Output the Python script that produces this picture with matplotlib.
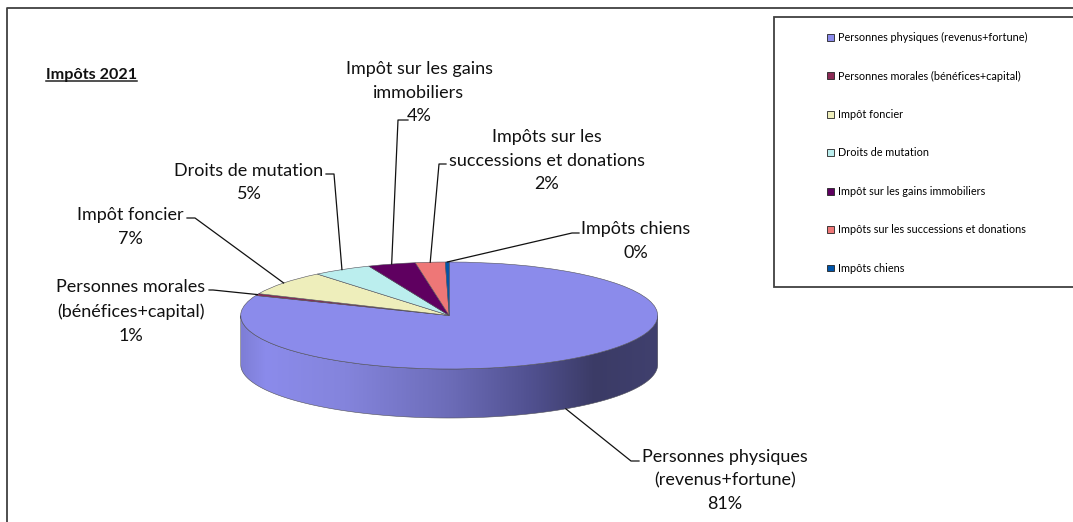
import numpy as np
import matplotlib
matplotlib.use("Agg")
import matplotlib.pyplot as plt
from matplotlib.colors import LinearSegmentedColormap
from matplotlib.patches import Polygon, Rectangle
from matplotlib.transforms import Affine2D

plt.rcParams['font.family'] = ['Lato', 'DejaVu Sans']

# shares, clockwise from 12 o'clock
names = ['Personnes physiques (revenus+fortune)', 'Personnes morales (bénéfices+capital)',
         'Impôt foncier', 'Droits de mutation', 'Impôt sur les gains immobiliers',
         'Impôts sur les successions et donations', 'Impôts chiens']
values = [81.1, 0.6, 7.4, 4.6, 3.7, 2.3, 0.3]
colors = ['#8B8BEB', '#8B2A55', '#EEEEBB', '#BBEEEE', '#5F0060', '#EE7777', '#0055AA']
slice_labels = ['Personnes physiques\n(revenus+fortune)', 'Personnes morales\n(bénéfices+capital)',
                'Impôt foncier', 'Droits de mutation', 'Impôt sur les gains\nimmobiliers',
                'Impôts sur les\nsuccessions et donations', 'Impôts chiens']

W, H = 1073, 522
cx, cy, rx, ry, depth = 449.2, 315.5, 208.5, 53.5, 49

fig = plt.figure(figsize=(W / 100, H / 100), dpi=100)
ax = fig.add_axes([0, 0, 1, 1])
px = Affine2D().scale(1 / W, -1 / H).translate(0, 1) + fig.transFigure  # picture pixels

wedges, _ = ax.pie(values, colors=colors, startangle=90, counterclock=False,
                   wedgeprops={'edgecolor': '#50505a', 'linewidth': 0.4, 'zorder': 3})
ax.set_aspect('auto')

# side of the cake with its gradient
d = depth / ry
th = np.linspace(np.pi, 2 * np.pi, 200)
wall = np.r_[np.c_[np.cos(th), np.sin(th)], np.c_[np.cos(th[::-1]), np.sin(th[::-1]) - d]]
patch = Polygon(wall, closed=True, facecolor='none', edgecolor='#50505a', linewidth=0.4, zorder=2)
ax.add_patch(patch)
shade = LinearSegmentedColormap.from_list('side', [(0, '#7E7ED6'), (0.06, '#8B8BEB'), (0.25, '#8484DC'),
                                                   (0.5, '#6C6CB8'), (0.7, '#50508F'), (0.85, '#3B3B66'),
                                                   (1, '#40406E')])
im = ax.imshow(np.linspace(0, 1, 256)[None, :], cmap=shade, extent=(-1, 1, -1 - d, 0),
               aspect='auto', zorder=1)
im.set_clip_path(patch)

ax.set_xlim((0 - cx) / rx, (W - cx) / rx)
ax.set_ylim((cy - H) / ry, cy / ry)
ax.axis('off')

# outer frame, only top and left show
ax.plot([7, 7, W], [H, 7.5, 7.5], color='#404040', lw=1.3, transform=px, clip_on=False)

ax.text(46, 74.5, 'Impôts 2021', fontsize=11.6, fontweight='bold', va='center', color='#111111', transform=px)
ax.plot([46, 137], [81, 81], color='#222222', lw=1.1, transform=px)

# label centres and leader knees
label_pos = [(725, 480.5), (130.5, 311.5), (130, 227), (249, 182.5), (419, 92.5), (547, 160.5), (636, 241)]
knees = [[(639, 461), (631, 461)], [(209, 290), (213, 290)], [(187, 218), (195, 218)],
         [(326, 174), (334, 174)], [(408, 120), (398, 120)], [(446, 164), (439, 164)],
         [(579, 233), (572, 233)]]

start = 0
for v, lab, pos, knee in zip(values, slice_labels, label_pos, knees):
    mid = np.radians((start + v / 2) * 3.6)
    start += v
    ex = cx + rx * np.sin(mid)
    ey = cy - ry * np.cos(mid)
    if np.cos(mid) < 0:  # front of the pie, line stops at the lower rim
        ey += depth
    ax.text(pos[0], pos[1], f'{lab}\n{round(v)}%', fontsize=13, ha='center', va='center',
            linespacing=1.6, color='#111111', transform=px, zorder=5)
    ax.plot([knee[0][0], knee[1][0], ex], [knee[0][1], knee[1][1], ey], color='#111111', lw=0.9,
            transform=px, zorder=4)

# legend
ax.add_patch(Rectangle((774, 16.7), W + 10 - 774, 270, facecolor='white', edgecolor='#404040', lw=1.3,
                       transform=px, clip_on=True, zorder=0))
leg = ax.legend(wedges, names, loc='upper left', bbox_to_anchor=(827 / W, 1 - 32 / H),
                bbox_transform=fig.transFigure, frameon=False, fontsize=7.8, labelspacing=2.535,
                handlelength=0.6, handleheight=0.6, handletextpad=0.46, borderpad=0, borderaxespad=0)
for h in leg.legend_handles:
    h.set_edgecolor('#222222')
    h.set_linewidth(0.6)

fig.savefig('out.png', dpi=100)
